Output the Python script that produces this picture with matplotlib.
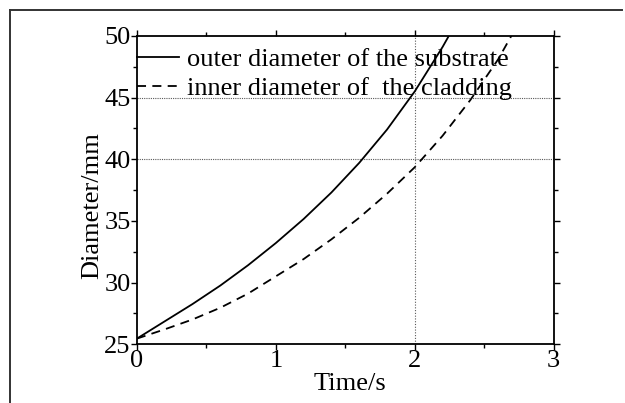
import numpy as np
import matplotlib
matplotlib.use('Agg')
import matplotlib.pyplot as plt
from matplotlib.lines import Line2D
from matplotlib.ticker import MultipleLocator

# Values
t_outer = [0.0, 0.2, 0.4, 0.6, 0.8, 1.0, 1.2, 1.4, 1.6, 1.8, 2.0, 2.2, 2.26]
d_outer = [25.45, 26.85, 28.25, 29.75, 31.4, 33.2, 35.15, 37.3, 39.7, 42.4, 45.5, 49.1, 50.3]

t_inner = [0.0, 0.2, 0.4, 0.6, 0.8, 1.0, 1.2, 1.4, 1.6, 1.8, 2.0, 2.2, 2.4, 2.6, 2.7]
d_inner = [25.45, 26.2, 27.0, 27.95, 29.1, 30.5, 31.9, 33.5, 35.25, 37.2, 39.35, 41.9, 44.8, 48.1, 50.1]

labels = ['outer diameter of the substrate', 'inner diameter of  the cladding']
ref_y = [45, 40]
ref_x = [2]

plt.rcParams['font.family'] = ['Liberation Serif', 'DejaVu Serif']

fig = plt.figure(figsize=(6.25, 4.03), dpi=100)
ax = fig.add_axes([0.219, 0.146, 0.667, 0.765])

# outer frame of the original figure (left and top edges only)
fig.add_artist(Line2D([0.016, 0.016], [0.0, 0.975], color='0.2', lw=1.4))
fig.add_artist(Line2D([0.016, 0.995], [0.975, 0.975], color='0.2', lw=1.4))

# dotted reference lines
for yv in ref_y:
    ax.axhline(yv, color='0.35', lw=0.8, ls=(0, (1, 1)), zorder=1)
for xv in ref_x:
    ax.axvline(xv, color='0.35', lw=0.8, ls=(0, (1, 1.5)), zorder=1)

ax.plot(t_outer, d_outer, color='black', lw=1.3, label=labels[0])
ax.plot(t_inner, d_inner, color='black', lw=1.3, ls=(0, (5, 3.5)), label=labels[1])

ax.set_xlim(0, 3)
ax.set_ylim(25, 50)
ax.xaxis.set_major_locator(MultipleLocator(1))
ax.xaxis.set_minor_locator(MultipleLocator(0.5))
ax.yaxis.set_major_locator(MultipleLocator(5))
ax.yaxis.set_minor_locator(MultipleLocator(2.5))
ax.tick_params(which='both', direction='out', top=True, right=True,
               labelsize=19, width=1.0, pad=0.5)
ax.tick_params(which='major', length=4)
ax.tick_params(which='minor', length=3)
for s in ax.spines.values():
    s.set_linewidth(1.3)

ax.set_xlabel('Time/s', fontsize=19)
ax.set_ylabel('Diameter/mm', fontsize=19)
ax.xaxis.set_label_coords(0.511, -0.095)
ax.yaxis.set_label_coords(-0.08, 0.45)

ax.legend(loc='upper left', bbox_to_anchor=(0.0, 0.962), frameon=False,
          fontsize=19, handlelength=1.6, handletextpad=0.3,
          borderaxespad=0.0, borderpad=0.0, labelspacing=0.2)

fig.savefig('out.png', dpi=100)
